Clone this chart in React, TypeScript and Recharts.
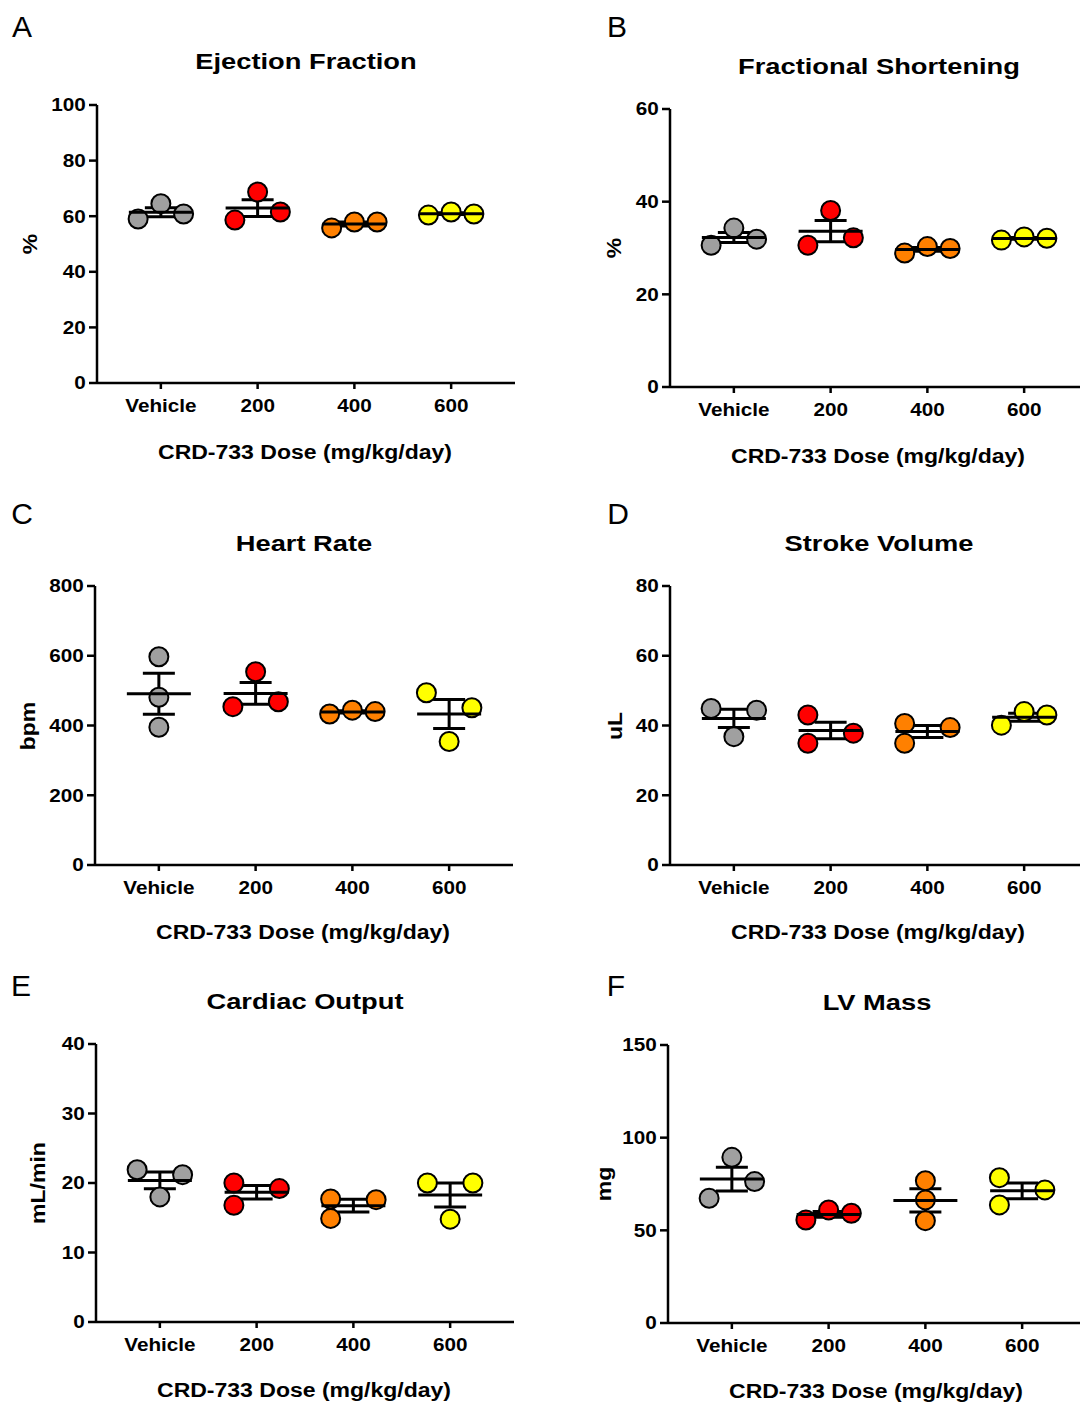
import React from 'react';
import { ScatterChart, Scatter, XAxis, YAxis, ErrorBar } from 'recharts';

// dose groups, in x order
const CATEGORIES = ['Vehicle', '200', '400', '600'];
const GROUP_COLORS = ['#a0a0a0', '#ff0000', '#ff8000', '#ffff00'];

// three animals per group
const EJECTION_FRACTION = [[59.0, 64.5, 60.8], [58.6, 68.7, 61.5], [55.8, 57.9, 57.9], [60.4, 61.5, 60.8]];
const FRACTIONAL_SHORTENING = [[30.6, 34.3, 31.9], [30.6, 38.1, 32.2], [28.9, 30.3, 29.9], [31.7, 32.4, 32.1]];
const HEART_RATE = [[597, 481, 395], [554, 454, 468], [433, 444, 440], [494, 451, 354]];
const STROKE_VOLUME = [[44.9, 44.4, 36.8], [43.0, 34.9, 37.8], [40.6, 34.9, 39.4], [40.1, 44.0, 43.0]];
const CARDIAC_OUTPUT = [[21.9, 21.2, 18.0], [20.0, 16.8, 19.2], [17.7, 14.9, 17.6], [20.0, 20.0, 14.8]];
const LV_MASS = [[89.4, 76.3, 67.3], [55.6, 61.0, 59.2], [76.8, 66.4, 55.2], [78.4, 63.7, 71.8]];

// y tick values
const EF_TICKS = [0, 20, 40, 60, 80, 100];
const FS_TICKS = [0, 20, 40, 60];
const HR_TICKS = [0, 200, 400, 600, 800];
const SV_TICKS = [0, 20, 40, 60, 80];
const CO_TICKS = [0, 10, 20, 30, 40];
const LV_TICKS = [0, 50, 100, 150];

// horizontal spread of the dots (-1 left, 0 centre, 1 right), like a GraphPad scatter
const SPREAD_EVEN = [[-1, 0, 1], [-1, 0, 1], [-1, 0, 1], [-1, 0, 1]];
const SPREAD_HR = [[0, 0, 0], [0, -1, 1], [-1, 0, 1], [-1, 1, 0]];
const SPREAD_SV = [[-1, 1, 0], [-1, -1, 1], [-1, -1, 1], [-1, 0, 1]];
const SPREAD_CO = [[-1, 1, 0], [-1, -1, 1], [-1, -1, 1], [-1, 1, 0]];
const SPREAD_LV = [[0, 1, -1], [-1, 0, 1], [0, 0, 0], [-1, -1, 1]];

const FONT = '"Liberation Sans", Arial, Helvetica, sans-serif';
const Y_AXIS_W = 97;
const PLOT_W = 418;
const X_DOMAIN: [number, number] = [0.34, 4.66];
const STEP = 0.235;

const mean = (v: number[]) => v.reduce((a, b) => a + b, 0) / v.length;
const sem = (v: number[]) => {
  const m = mean(v);
  const sd = Math.sqrt(v.reduce((a, b) => a + (b - m) * (b - m), 0) / (v.length - 1));
  return sd / Math.sqrt(v.length);
};

const XTick = (props: any) => {
  const { x, y, payload } = props;
  return (
    <g transform={`translate(${x},${y})`}>
      <text transform="scale(1.15,1)" y={15} textAnchor="middle" dominantBaseline="central"
        fontFamily={FONT} fontWeight="bold" fontSize={18} fill="#000">
        {CATEGORIES[payload.value - 1]}
      </text>
    </g>
  );
};

const YTick = (props: any) => {
  const { x, y, payload } = props;
  return (
    <g transform={`translate(${x},${y})`}>
      <text transform="scale(1.15,1)" x={-1} textAnchor="end" dominantBaseline="central"
        fontFamily={FONT} fontWeight="bold" fontSize={18} fill="#000">
        {payload.value}
      </text>
    </g>
  );
};

const Dot = (props: any) => (
  <circle cx={props.cx} cy={props.cy} r={9.5} fill={props.fill} stroke="#000" strokeWidth={2} />
);

const MeanLine = (props: any) => (
  <line x1={props.cx - 32} x2={props.cx + 32} y1={props.cy} y2={props.cy} stroke="#000" strokeWidth={3} />
);

type PanelProps = {
  letter: string; letterX: number; letterY: number;
  title: string; yLabel: string;
  values: number[][]; spread: number[][]; ticks: number[];
  left: number; top: number; height: number;
  titleY: number; xLabelY: number; yLabelX: number;
};

const Label = ({ x, y, size, scale, rotate, weight, children }: any) => (
  <div style={{
    position: 'absolute', left: x, top: y, whiteSpace: 'nowrap', lineHeight: 1,
    fontFamily: FONT, fontSize: size, fontWeight: weight ?? 'bold', color: '#000',
    transform: `translate(-50%,-50%)${rotate ? ' rotate(-90deg)' : ''} scaleX(${scale})`,
  }}>{children}</div>
);

const Panel = (p: PanelProps) => {
  const dots = p.values.map((g, i) => g.map((v, j) => ({ x: i + 1 + p.spread[i][j] * STEP, y: v })));
  const means = p.values.map((g, i) => ({ x: i + 1, y: mean(g), sem: sem(g) }));
  const W = Y_AXIS_W + PLOT_W + 20;
  const H = 15 + p.height + 40;
  const cx = p.left + PLOT_W / 2;
  return (
    <>
      <Label x={p.letterX} y={p.letterY} size={30} scale={1} weight="normal">{p.letter}</Label>
      <Label x={cx} y={p.titleY} size={22} scale={1.24}>{p.title}</Label>
      <Label x={cx - 1} y={p.xLabelY} size={20} scale={1.15}>CRD-733 Dose (mg/kg/day)</Label>
      <Label x={p.yLabelX} y={p.top + p.height / 2} size={20} scale={1.15} rotate>{p.yLabel}</Label>
      <div style={{ position: 'absolute', left: p.left - Y_AXIS_W, top: p.top - 15 }}>
        <ScatterChart width={W} height={H} margin={{ top: 15, right: 20, left: 0, bottom: 0 }}>
          <XAxis type="number" dataKey="x" domain={X_DOMAIN} ticks={[1, 2, 3, 4]} allowDataOverflow
            interval={0} height={40} tickSize={6} tick={<XTick />}
            axisLine={{ stroke: '#000', strokeWidth: 2.5 }} tickLine={{ stroke: '#000', strokeWidth: 2.5 }} />
          <YAxis type="number" dataKey="y" domain={[p.ticks[0], p.ticks[p.ticks.length - 1]]} ticks={p.ticks}
            allowDataOverflow interval={0} width={Y_AXIS_W} tickSize={8} tick={<YTick />}
            axisLine={{ stroke: '#000', strokeWidth: 2.5 }} tickLine={{ stroke: '#000', strokeWidth: 2.5 }} />
          {dots.map((d, i) => (
            <Scatter key={i} data={d} fill={GROUP_COLORS[i]} shape={<Dot />} isAnimationActive={false} />
          ))}
          <Scatter data={means} shape={<MeanLine />} isAnimationActive={false}>
            <ErrorBar dataKey="sem" direction="y" width={16} stroke="#000" strokeWidth={3} isAnimationActive={false} />
          </Scatter>
        </ScatterChart>
      </div>
    </>
  );
};

export default function App() {
  return (
    <div style={{ position: 'absolute', left: 0, top: 0, width: 1080, height: 1403, overflow: 'hidden', background: '#fff' }}>
      <Panel letter="A" letterX={22} letterY={27} title="Ejection Fraction" yLabel="%" values={EJECTION_FRACTION}
        spread={SPREAD_EVEN} ticks={EF_TICKS} left={97} top={105} height={278} titleY={62} xLabelY={452} yLabelX={30} />
      <Panel letter="B" letterX={617} letterY={27} title="Fractional Shortening" yLabel="%" values={FRACTIONAL_SHORTENING}
        spread={SPREAD_EVEN} ticks={FS_TICKS} left={670} top={109} height={278} titleY={67} xLabelY={456} yLabelX={614} />
      <Panel letter="C" letterX={22} letterY={514} title="Heart Rate" yLabel="bpm" values={HEART_RATE}
        spread={SPREAD_HR} ticks={HR_TICKS} left={95} top={586} height={279} titleY={544} xLabelY={932} yLabelX={28} />
      <Panel letter="D" letterX={618} letterY={514} title="Stroke Volume" yLabel="uL" values={STROKE_VOLUME}
        spread={SPREAD_SV} ticks={SV_TICKS} left={670} top={586} height={279} titleY={544} xLabelY={932} yLabelX={615} />
      <Panel letter="E" letterX={21} letterY={986} title="Cardiac Output" yLabel="mL/min" values={CARDIAC_OUTPUT}
        spread={SPREAD_CO} ticks={CO_TICKS} left={96} top={1044} height={278} titleY={1002} xLabelY={1390} yLabelX={38} />
      <Panel letter="F" letterX={616} letterY={986} title="LV Mass" yLabel="mg" values={LV_MASS}
        spread={SPREAD_LV} ticks={LV_TICKS} left={668} top={1045} height={278} titleY={1003} xLabelY={1391} yLabelX={604} />
    </div>
  );
}
